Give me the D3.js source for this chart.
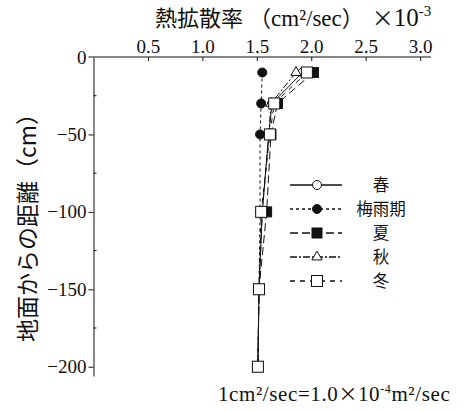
<!DOCTYPE html>
<html>
<head>
<meta charset="utf-8">
<script src="https://cdn.jsdelivr.net/npm/d3@7"></script>
<style>
  body { margin: 0; background: #fff; }
  svg text { fill: #111; }
</style>
</head>
<body>
<div id="chart"></div>
<script>
// depth below ground (cm) and thermal diffusivity (x10^-3 cm2/sec)
const depths = [-10, -30, -50, -100, -150, -200];
const spring = [1.92, 1.64, 1.61, 1.55, 1.52, 1.51];
const rainy  = [1.55, 1.54, 1.53, 1.53, 1.52, 1.51];
const summer = [2.02, 1.69, 1.63, 1.59, 1.52, 1.51];
const autumn = [1.86, 1.63, 1.61, 1.55, 1.52, 1.51];
const winter = [1.96, 1.66, 1.62, 1.54, 1.52, 1.51];
const seriesNames = ["春", "梅雨期", "夏", "秋", "冬"];
const xTicks = [0.5, 1.0, 1.5, 2.0, 2.5, 3.0];
const yTicks = [0, -50, -100, -150, -200];
const yMinorTicks = [-25, -75, -125, -175];

const width = 465, height = 411;
const serif = "'Liberation Serif', 'DejaVu Serif', serif";
const cjk = "'Noto Sans CJK JP', sans-serif";

const x = d3.scaleLinear().domain([0, 3.1]).range([93.5, 431]);
const y = d3.scaleLinear().domain([0, -206]).range([57, 376]);

const svg = d3.select("#chart").append("svg")
  .attr("width", width)
  .attr("height", height);

// series styles
const styles = [
  { vals: spring, dash: null,  marker: "circle", fill: "#fff" },
  { vals: rainy,  dash: "3,3", marker: "circle", fill: "#111" },
  { vals: summer, dash: "8,4", marker: "square", fill: "#111" },
  { vals: autumn, dash: "7,2,2,2", marker: "triangle", fill: "#fff" },
  { vals: winter, dash: "5,5", marker: "bigsquare", fill: "#fff" }
];

function drawMarker(g, type, fill) {
  if (type === "circle") {
    g.append("circle").attr("r", 4.5).attr("fill", fill)
      .attr("stroke", "#111").attr("stroke-width", 1);
  } else if (type === "square") {
    g.append("rect").attr("x", -5).attr("y", -5).attr("width", 10).attr("height", 10)
      .attr("fill", fill).attr("stroke", "#111").attr("stroke-width", 1);
  } else if (type === "bigsquare") {
    g.append("rect").attr("x", -5.5).attr("y", -5.5).attr("width", 11).attr("height", 11)
      .attr("fill", fill).attr("stroke", "#111").attr("stroke-width", 1);
  } else {
    g.append("path").attr("d", d3.symbol(d3.symbolTriangle, 45)())
      .attr("fill", fill).attr("stroke", "#111").attr("stroke-width", 1);
  }
}

// axes
const xAxis = d3.axisTop(x).tickValues(xTicks).tickSize(-4).tickSizeOuter(0)
  .tickFormat(d3.format(".1f"));
const gx = svg.append("g").attr("transform", `translate(0,${y(0)})`).call(xAxis);
gx.select(".domain").attr("d", `M${x(0) - 5},0H${x(3.1)}`);
gx.selectAll("text").attr("font-family", serif).attr("font-size", 19).attr("dy", "-0.05em");

const yAxis = d3.axisLeft(y).tickValues(yTicks).tickSize(5).tickSizeOuter(0).tickPadding(2);
const gy = svg.append("g").attr("transform", `translate(${x(0)},0)`).call(yAxis);
gy.selectAll("text").attr("font-family", serif).attr("font-size", 19);
gy.selectAll(".tick").filter(d => d === 0).select("line").remove();

svg.append("g").selectAll("line").data(yMinorTicks).join("line")
  .attr("x1", x(0)).attr("x2", x(0) + 3)
  .attr("y1", d => y(d)).attr("y2", d => y(d))
  .attr("stroke", "#111");

svg.selectAll(".domain, .tick line").attr("stroke", "#111");

// lines
const line = d3.line().x(d => x(d[0])).y(d => y(d[1]));
styles.forEach(s => {
  const pts = depths.map((dep, i) => [s.vals[i], dep]);
  svg.append("path").datum(pts)
    .attr("d", line)
    .attr("fill", "none")
    .attr("stroke", "#111")
    .attr("stroke-width", 1)
    .attr("stroke-dasharray", s.dash);
});
// markers drawn after all lines
styles.forEach(s => {
  depths.forEach((dep, i) => {
    const g = svg.append("g").attr("transform", `translate(${x(s.vals[i])},${y(dep)})`);
    drawMarker(g, s.marker, s.fill);
  });
});

// legend
const legend = svg.append("g").attr("transform", "translate(290,185)");
styles.forEach((s, i) => {
  const row = legend.append("g").attr("transform", `translate(0,${i * 24})`);
  row.append("line").attr("x1", 0).attr("x2", 52)
    .attr("stroke", "#111").attr("stroke-width", 1.5)
    .attr("stroke-dasharray", s.dash);
  drawMarker(row.append("g").attr("transform", "translate(27,0)"), s.marker, s.fill);
  row.append("text").attr("x", 91).attr("y", 0).attr("dy", "0.36em")
    .attr("text-anchor", "middle")
    .attr("font-family", cjk).attr("font-size", 16.5)
    .text(seriesNames[i]);
});

// titles
const title = svg.append("text").attr("x", 155).attr("y", 26)
  .attr("font-size", 22);
title.append("tspan").attr("font-family", cjk).text("熱拡散率");
title.append("tspan").attr("font-family", cjk).attr("dx", 6).text("（");
title.append("tspan").attr("font-family", serif).attr("font-size", 23).text("cm²/sec");
title.append("tspan").attr("font-family", cjk).text("）");
title.append("tspan").attr("font-family", cjk).attr("dx", 8).text("×");
title.append("tspan").attr("font-family", serif).attr("font-size", 25).text("10");
title.append("tspan").attr("font-family", serif).attr("font-size", 15)
  .attr("dy", -10).text("-3");

svg.append("text")
  .attr("transform", `translate(36,222) rotate(-90)`)
  .attr("text-anchor", "middle")
  .attr("font-family", cjk).attr("font-size", 23)
  .text("地面からの距離（cm）");

const note = svg.append("text").attr("x", 218).attr("y", 401)
  .attr("font-family", serif).attr("font-size", 21)
  .attr("letter-spacing", 0.6);
note.append("tspan").text("1cm²/sec=1.0");
note.append("tspan").attr("font-family", cjk).attr("font-size", 19).text("×");
note.append("tspan").text("10");
note.append("tspan").attr("font-size", 12).attr("dy", -8).text("-4");
note.append("tspan").attr("dy", 8).text("m²/sec");
</script>
</body>
</html>
